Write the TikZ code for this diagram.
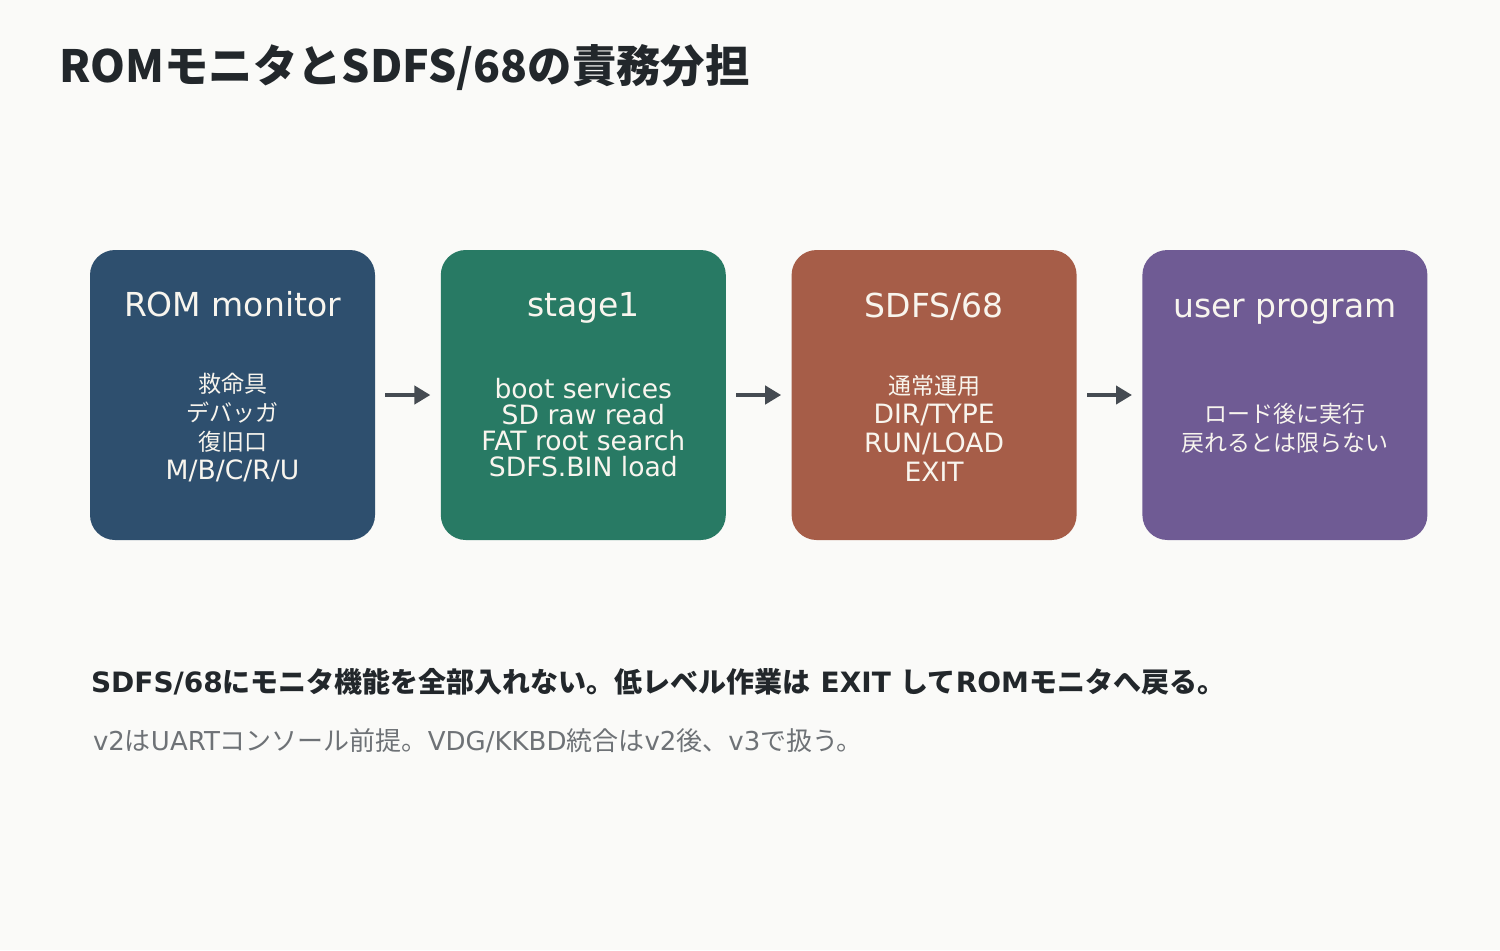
\documentclass[tikz,border=0pt]{standalone}
\usepackage{fontspec}
\setmainfont{DejaVu Sans}
\newfontfamily\jp{Noto Sans CJK JP}
\usetikzlibrary{arrows.meta,positioning}

\definecolor{bgcol}{HTML}{FAFAF8}
\definecolor{inkcol}{HTML}{22272B}
\definecolor{notecol}{HTML}{6E7276}
\definecolor{arrowcol}{HTML}{454B52}
\definecolor{boxtext}{HTML}{F8F5EE}
\definecolor{romcol}{HTML}{2E4F6E}
\definecolor{stagecol}{HTML}{287A64}
\definecolor{sdfscol}{HTML}{A65D48}
\definecolor{usercol}{HTML}{6F5B94}

\newcommand\jpline[1]{{\jp\fontsize{11.5}{14.5}\selectfont #1}}

\tikzset{
  block/.style={rounded corners=12.5pt,minimum width=142.5pt,minimum height=145pt,inner sep=0pt},
  blocktitle/.style={anchor=base,text=boxtext,font=\fontsize{16.5}{19}\selectfont},
  blockbody/.style={text=boxtext,align=center,font=\fontsize{13.3}{14.5}\selectfont},
}

\begin{document}
\begin{tikzpicture}[x=0.5pt,y=-0.5pt,>={Triangle[length=8pt,width=9pt]},node distance=32.5pt]

\fill[bgcol] (0,0) rectangle (1500,950);

\node[anchor=base west,text=inkcol,font=\fontsize{22.2}{27}\jp\bfseries] (title) at (52,82) {ROMモニタとSDFS/68の責務分担};

\node[block,fill=romcol]   (rom)   at (232.5,395) {};
\node[block,fill=stagecol] (stage) [right=of rom]   {};
\node[block,fill=sdfscol]  (sdfs)  [right=of stage] {};
\node[block,fill=usercol]  (user)  [right=of sdfs]  {};

\node[blocktitle] (romtitle)   at ([yshift=-33.5pt]rom.north)   {ROM monitor};
\node[blocktitle] (stagetitle) at ([yshift=-33.5pt]stage.north) {stage1};
\node[blocktitle] (sdfstitle)  at ([yshift=-34pt]sdfs.north)    {SDFS/68};
\node[blocktitle] (usertitle)  at ([yshift=-34pt]user.north)    {user program};

\node[blockbody] (rombody)   at ([yshift=-16.5pt]rom.center)   {\jpline{救命具}\\\jpline{デバッガ}\\\jpline{復旧口}\\M/B/C/R/U};
\node[blockbody,font=\fontsize{13.3}{13}\selectfont] (stagebody) at ([yshift=-16.5pt]stage.center) {boot services\\SD raw read\\FAT root search\\SDFS.BIN load};
\node[blockbody] (sdfsbody)  at ([yshift=-16.5pt]sdfs.center)  {\jpline{通常運用}\\DIR/TYPE\\RUN/LOAD\\EXIT};
\node[blockbody] (userbody)  at ([yshift=-16.5pt]user.center)  {\jpline{ロード後に実行}\\\jpline{戻れるとは限らない}};

\path[->,draw=arrowcol,fill=arrowcol,line width=2pt,shorten >=5pt,shorten <=5pt]
  (rom)   edge (stage)
  (stage) edge (sdfs)
  (sdfs)  edge (user);

% notes under the row
\node[anchor=base west,text=inkcol,font=\fontsize{14}{17}\selectfont\bfseries] (summary) at (84,692)
  {SDFS/68{\jp にモニタ機能を全部入れない。低レベル作業は} EXIT {\jp して}ROM{\jp モニタへ戻る。}};
\node[anchor=base west,text=notecol,font=\fontsize{13}{15}\selectfont] (note) at (86,750)
  {v2{\jp は}UART{\jp コンソール前提。}VDG/KKBD{\jp 統合は}v2{\jp 後、}v3{\jp で扱う。}};

\end{tikzpicture}
\end{document}
